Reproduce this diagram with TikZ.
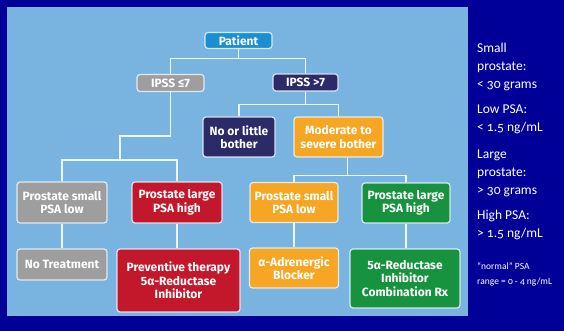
\documentclass[tikz,border=0pt]{standalone}
\usepackage{fontspec}
\setmainfont{Carlito}[Numbers=OldStyle]
\newfontfamily\boxfont{Fira Sans}
\usetikzlibrary{positioning}
\definecolor{outerblue}{RGB}{0,0,153}
\definecolor{panelblue}{RGB}{121,179,224}
\definecolor{patientblue}{RGB}{27,143,210}
\definecolor{boxgray}{RGB}{158,158,158}
\definecolor{boxnavy}{RGB}{44,42,103}
\definecolor{boxorange}{RGB}{246,166,35}
\definecolor{boxred}{RGB}{195,24,43}
\definecolor{boxgreen}{RGB}{23,146,63}
\definecolor{edgewhite}{RGB}{236,246,255}
\tikzset{tree node/.style={rectangle, rounded corners=3pt, fill=#1,
    draw=edgewhite, draw opacity=0.85, line width=1.2pt, text=white, align=center,
    inner sep=1pt, font=\boxfont\bfseries\fontsize{12}{13.5}\selectfont}}
\tikzset{tree edge/.style={draw=edgewhite, line width=1.3pt}}
\tikzset{side note/.style={anchor=north west, align=left, text=white, inner sep=0pt,
    font=\fontsize{13.5}{18}\selectfont}}

\begin{document}
\begin{tikzpicture}
      [x=1pt, y=-1pt]
      \useasboundingbox (0,0) rectangle (564,331);
      \fill [outerblue] (0,0) rectangle (564,331);
      \fill [panelblue] (7,7) rectangle (468,316);

      \node [tree node=patientblue, minimum width=67pt,  minimum height=16pt] (patient)    at (238.5, 40.5) {Patient};
      \node [tree node=boxgray,     minimum width=67pt,  minimum height=17pt] (ipssLow)    at (170.5, 83)   {IPSS ≤7};
      \node [tree node=boxnavy,     minimum width=65pt,  minimum height=17pt] (ipssHigh)   at (305.5, 82.5) {IPSS >7};
      \node [tree node=boxnavy,     minimum width=72pt,  minimum height=40pt] (noBother)   at (239, 137)    {No or little\\bother};
      \node [tree node=boxorange,   minimum width=89pt,  minimum height=40pt] (severe)     at (338.5, 137)  {Moderate to\\severe bother};
      \node [tree node=boxgray,     minimum width=90pt,  minimum height=41pt] (smallLowA)  at (62, 202.5)   {Prostate small\\PSA low};
      \node [tree node=boxred,      minimum width=90pt,  minimum height=41pt] (largeHighA) at (177, 202.5)  {Prostate large\\PSA high};
      \node [tree node=boxorange,   minimum width=88pt,  minimum height=40pt] (smallLowB)  at (294, 202.5)  {Prostate small\\PSA low};
      \node [tree node=boxgreen,    minimum width=88pt,  minimum height=40pt] (largeHighB) at (406, 203)    {Prostate large\\PSA high};
      \node [tree node=boxgray,     minimum width=90pt,  minimum height=31pt] (noTreat)    at (62, 264.5)   {No Treatment};
      \node [tree node=boxred,      minimum width=123pt, minimum height=63pt] (preventive) at (178.5, 280.5) {Preventive therapy\\5α-Reductase\\Inhibitor};
      \node [tree node=boxorange,   minimum width=89pt,  minimum height=40pt] (alphaBlock) at (294, 268)    {α-Adrenergic\\Blocker};
      \node [tree node=boxgreen,    minimum width=110pt, minimum height=59pt] (combiRx)    at (405, 278.5)  {5α-Reductase\\Inhibitor\\Combination Rx};
      \coordinate (lowBend) at (120, 136);

      \draw [tree edge]  (patient.south) -- ++(0,9.5) -| (ipssLow.north);
      \draw [tree edge]  (patient.south) -- ++(0,9.5) -| (ipssHigh.north);
      \draw [tree edge]  (ipssHigh.south) -- ++(0,13) -| (noBother.north);
      \draw [tree edge]  (ipssHigh.south) -- ++(0,13) -| (severe.north);
      \draw [tree edge]  (ipssLow.south) |- (lowBend) -- ++(0,24) -| (smallLowA.north);
      \draw [tree edge]  (lowBend) -- ++(0,24) -| (largeHighA.north);
      \draw [tree edge]  ([xshift=9pt]severe.south) -- ++(0,18) -| (smallLowB.north);
      \draw [tree edge]  ([xshift=9pt]severe.south) -- ++(0,18) -| (largeHighB.north);
      \draw [tree edge]  (smallLowA.south)  -- (smallLowA.south  |- noTreat.north);
      \draw [tree edge]  (largeHighA.south) -- (largeHighA.south |- preventive.north);
      \draw [tree edge]  (smallLowB.south)  -- (smallLowB.south  |- alphaBlock.north);
      \draw [tree edge]  (largeHighB.south) -- (largeHighB.south |- combiRx.north);

      \node [side note] (noteSmall) at (477, 43)  {Small\\prostate:\\< 30 grams};
      \node [side note] (noteLow)   at (477, 105) {Low PSA:\\< 1.5 ng/mL};
      \node [side note] (noteLarge) at (477, 150) {Large\\prostate:\\> 30 grams};
      \node [side note] (noteHigh)  at (477, 210) {High PSA:\\> 1.5 ng/mL};
      \node [side note, font=\fontsize{9.5}{15}\selectfont] (noteRange) at (477, 262) {“normal” PSA\\range = 0 - 4 ng/mL};
    \end{tikzpicture}
\end{document}
